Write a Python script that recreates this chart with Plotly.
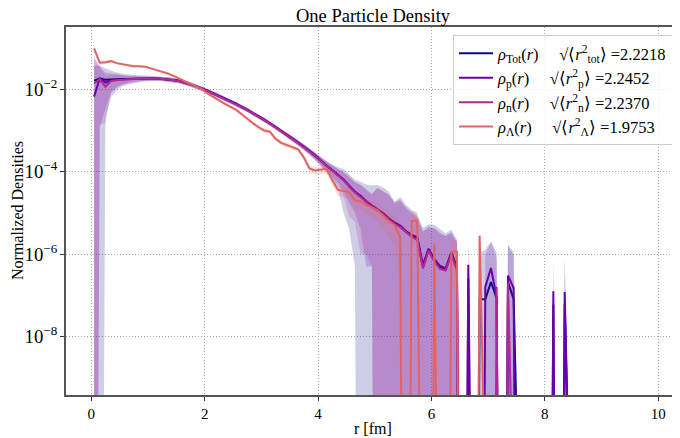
import numpy as np
import plotly.graph_objects as go

# bin centres [fm]
r_fm = np.round(np.arange(0.05, 10.0, 0.1), 2)

# densities (bins 0.05 ... 8.45 fm, zero afterwards)
rho_tot = [1.62e-2, 1.82e-2, 1.70e-2, 1.74e-2, 1.74e-2, 1.78e-2, 1.78e-2, 1.80e-2, 1.82e-2, 1.84e-2,
           1.84e-2, 1.82e-2, 1.78e-2, 1.74e-2, 1.66e-2, 1.58e-2, 1.45e-2, 1.32e-2, 1.17e-2, 1.05e-2,
           9.1e-3, 7.9e-3, 6.9e-3, 5.9e-3, 5.1e-3, 4.4e-3, 3.7e-3, 3.2e-3, 2.6e-3, 2.2e-3,
           1.8e-3, 1.48e-3, 1.20e-3, 9.8e-4, 7.9e-4, 6.3e-4, 5.0e-4, 4.0e-4, 3.1e-4, 2.4e-4,
           1.82e-4, 1.38e-4, 1.07e-4, 8.3e-5, 6.3e-5, 4.4e-5, 3.2e-5, 2.5e-5, 1.86e-5, 1.45e-5,
           1.17e-5, 9.5e-6, 7.1e-6, 5.6e-6, 4.7e-6, 3.5e-6, 2.8e-6, 2.4e-6, 5.0e-7, 1.26e-6,
           7.1e-7, 4.8e-7, 4.2e-7, 1.0e-6, 4.4e-7, 0, 2.5e-7, 0, 8e-8, 8e-8,
           2.1e-7, 8.5e-8, 0, 2.1e-7, 8e-8, 0, 0, 0, 0, 0,
           0, 6e-8, 0, 6e-8, 0]
rho_p = [6.6e-3, 1.82e-2, 1.45e-2, 1.62e-2, 1.70e-2, 1.76e-2, 1.77e-2, 1.80e-2, 1.82e-2, 1.83e-2,
         1.84e-2, 1.82e-2, 1.79e-2, 1.75e-2, 1.68e-2, 1.60e-2, 1.47e-2, 1.33e-2, 1.18e-2, 1.06e-2,
         9.3e-3, 8.0e-3, 7.0e-3, 6.0e-3, 5.2e-3, 4.5e-3, 3.8e-3, 3.2e-3, 2.7e-3, 2.2e-3,
         1.85e-3, 1.50e-3, 1.22e-3, 1.00e-3, 8.0e-4, 6.4e-4, 5.1e-4, 4.1e-4, 3.2e-4, 2.5e-4,
         1.85e-4, 1.40e-4, 1.10e-4, 8.4e-5, 6.5e-5, 4.5e-5, 3.3e-5, 2.6e-5, 1.9e-5, 1.5e-5,
         1.2e-5, 9.8e-6, 7.3e-6, 5.8e-6, 4.9e-6, 3.6e-6, 2.9e-6, 2.6e-6, 5.5e-7, 1.35e-6,
         7.6e-7, 5.2e-7, 4.5e-7, 1.1e-6, 4.8e-7, 0, 5.5e-7, 0, 0, 1.6e-7,
         4.6e-7, 9e-8, 0, 3.0e-7, 1.5e-7, 0, 0, 0, 0, 0,
         0, 1.25e-7, 0, 1.2e-7, 0]
rho_n = [1.38e-2, 1.74e-2, 1.15e-2, 1.58e-2, 1.66e-2, 1.72e-2, 1.75e-2, 1.78e-2, 1.80e-2, 1.82e-2,
         1.83e-2, 1.81e-2, 1.77e-2, 1.73e-2, 1.66e-2, 1.57e-2, 1.44e-2, 1.31e-2, 1.16e-2, 1.04e-2,
         9.0e-3, 7.8e-3, 6.8e-3, 5.9e-3, 5.0e-3, 4.3e-3, 3.7e-3, 3.1e-3, 2.6e-3, 2.2e-3,
         1.8e-3, 1.46e-3, 1.19e-3, 9.7e-4, 7.8e-4, 6.2e-4, 4.9e-4, 3.9e-4, 3.1e-4, 2.4e-4,
         1.80e-4, 1.36e-4, 1.05e-4, 8.2e-5, 6.2e-5, 4.3e-5, 3.1e-5, 2.4e-5, 1.8e-5, 1.4e-5,
         1.15e-5, 9.2e-6, 6.9e-6, 5.4e-6, 4.5e-6, 3.4e-6, 2.6e-6, 2.2e-6, 4.5e-7, 1.2e-6,
         6.6e-7, 4.4e-7, 4.0e-7, 9.5e-7, 4.2e-7, 0, 0, 0, 0, 0,
         0, 1.6e-7, 0, 2.0e-7, 0, 0, 0, 0, 0, 0,
         0, 0, 0, 0, 0]
rho_lam = [9.8e-2, 4.4e-2, 4.5e-2, 4.8e-2, 4.3e-2, 4.0e-2, 3.8e-2, 3.6e-2, 3.6e-2, 3.5e-2,
           3.2e-2, 2.95e-2, 2.7e-2, 2.4e-2, 2.1e-2, 1.82e-2, 1.58e-2, 1.38e-2, 1.20e-2, 1.0e-2,
           7.9e-3, 6.5e-3, 5.4e-3, 4.5e-3, 3.8e-3, 3.2e-3, 2.5e-3, 1.9e-3, 1.5e-3, 1.2e-3,
           1.0e-3, 9.3e-4, 6.3e-4, 5.0e-4, 4.4e-4, 4.0e-4, 3.5e-4, 2.2e-4, 1.2e-4, 1.07e-4,
           1.1e-4, 1.17e-4, 6.3e-5, 3.6e-5, 3.4e-5, 3.2e-5, 2.0e-5, 1.9e-5, 1.55e-5, 1.38e-5,
           1.17e-5, 8.7e-6, 6.3e-6, 5.0e-6, 2.6e-6, 0, 6.3e-6, 6.6e-6, 0, 0,
           1.8e-6, 0, 0, 1.15e-6, 1.15e-6, 0, 0, 0, 2.8e-6, 0,
           0, 0, 0, 0, 0, 0, 0, 0, 0, 0,
           0, 0, 0, 0, 0]

# statistical errors (half width of the shaded bands)
err_tot = [2.0e-2, 2.0e-2, 1.5e-2, 1.1e-2, 8e-3, 6e-3, 5e-3, 4e-3, 3.4e-3, 3e-3,
           2.6e-3, 2.4e-3, 2.2e-3, 2.1e-3, 2.0e-3, 1.9e-3, 1.75e-3, 1.6e-3, 1.4e-3, 1.3e-3,
           1.1e-3, 9.5e-4, 8.3e-4, 7.1e-4, 6.1e-4, 5.3e-4, 4.5e-4, 3.8e-4, 3.2e-4, 2.7e-4,
           2.2e-4, 1.8e-4, 1.5e-4, 1.3e-4, 1.1e-4, 9e-5, 7.5e-5, 6.4e-5, 5.6e-5, 4.8e-5,
           4.5e-5, 4.1e-5, 4.3e-5, 4.5e-5, 5.3e-5, 4.0e-5, 3.15e-5, 3.2e-5, 3.0e-5, 3.2e-5,
           3.6e-5, 3.2e-5, 2.6e-5, 1.3e-5, 2.0e-5, 1.2e-5, 9e-6, 7e-6, 3.8e-6, 4.0e-6,
           4.4e-6, 3.5e-6, 2.8e-6, 2.9e-6, 1.8e-6, 0, 2.0e-6, 0, 1.0e-6, 1.2e-6,
           1.8e-6, 1.0e-6, 0, 1.5e-6, 1.0e-6, 0, 0, 0, 0, 0,
           0, 7.5e-7, 0, 7.5e-7, 0]
err_p = [5.6e-2, 1.7e-2, 1.1e-2, 8e-3, 6e-3, 4.5e-3, 3.5e-3, 2.8e-3, 2.4e-3, 2.2e-3,
         2.0e-3, 1.9e-3, 1.9e-3, 1.9e-3, 1.8e-3, 1.75e-3, 1.6e-3, 1.45e-3, 1.3e-3, 1.15e-3,
         1.0e-3, 8.8e-4, 7.7e-4, 6.6e-4, 5.7e-4, 5.0e-4, 4.2e-4, 3.5e-4, 3.0e-4, 2.4e-4,
         2.0e-4, 1.7e-4, 1.4e-4, 1.2e-4, 1.0e-4, 8.5e-5, 7e-5, 6e-5, 5.2e-5, 4.5e-5,
         4.0e-5, 3.6e-5, 3.3e-5, 3.0e-5, 3.0e-5, 2.8e-5, 2.3e-5, 2.2e-5, 1.85e-5, 1.45e-5,
         2.8e-5, 2.4e-5, 2.0e-5, 1.2e-5, 1.6e-5, 1.0e-5, 7.5e-6, 5.5e-6, 3.0e-6, 3.3e-6,
         3.5e-6, 2.8e-6, 2.3e-6, 2.3e-6, 1.5e-6, 0, 1.7e-6, 0, 0, 8e-7,
         1.5e-6, 7e-7, 0, 1.3e-6, 8e-7, 0, 0, 0, 0, 0,
         0, 6.7e-7, 0, 6.7e-7, 0]
err_n = [4.0e-2, 1.6e-2, 1.0e-2, 7e-3, 5.5e-3, 4.2e-3, 3.4e-3, 2.8e-3, 2.4e-3, 2.2e-3,
         2.0e-3, 1.9e-3, 1.9e-3, 1.9e-3, 1.8e-3, 1.7e-3, 1.6e-3, 1.45e-3, 1.3e-3, 1.15e-3,
         1.0e-3, 8.6e-4, 7.5e-4, 6.5e-4, 5.5e-4, 4.8e-4, 4.1e-4, 3.4e-4, 2.9e-4, 2.4e-4,
         2.0e-4, 1.7e-4, 1.4e-4, 1.2e-4, 1.0e-4, 8.5e-5, 7.2e-5, 6.2e-5, 5.4e-5, 4.8e-5,
         4.3e-5, 3.9e-5, 3.6e-5, 3.4e-5, 3.6e-5, 3.5e-5, 2.5e-5, 2.3e-5, 1.7e-5, 1.35e-5,
         2.9e-5, 2.5e-5, 2.1e-5, 1.1e-5, 1.5e-5, 9.5e-6, 7e-6, 5e-6, 3.2e-6, 3.0e-6,
         3.6e-6, 2.6e-6, 2.4e-6, 2.2e-6, 1.4e-6, 0, 0, 0, 0, 0,
         0, 9e-7, 0, 1.2e-6, 0, 0, 0, 0, 0, 0,
         0, 0, 0, 0, 0]
err_lam = [1.9e-2, 6e-3, 4e-3, 3.5e-3, 3e-3, 2.6e-3, 2.4e-3, 2.2e-3, 2.1e-3, 2.0e-3,
           1.9e-3, 1.7e-3, 1.6e-3, 1.5e-3, 1.3e-3, 1.1e-3, 1.0e-3, 9e-4, 8e-4, 7e-4,
           5.5e-4, 4.6e-4, 4.0e-4, 3.4e-4, 3.0e-4, 2.6e-4, 2.1e-4, 1.7e-4, 1.4e-4, 1.2e-4,
           1.0e-4, 1.0e-4, 7.5e-5, 6.5e-5, 6e-5, 5.6e-5, 5.3e-5, 3.7e-5, 2.3e-5, 2.1e-5,
           2.3e-5, 2.6e-5, 1.6e-5, 1e-5, 1e-5, 1e-5, 7e-6, 7e-6, 6.5e-6, 6e-6,
           5.5e-6, 4.5e-6, 3.8e-6, 3.2e-6, 2.4e-6, 0, 4.5e-6, 4.5e-6, 0, 0,
           1.5e-6, 0, 0, 1.0e-6, 1.0e-6, 0, 0, 0, 6e-7, 0,
           0, 0, 0, 0, 0, 0, 0, 0, 0, 0,
           0, 0, 0, 0, 0]

rms_tot, rms_p, rms_n, rms_lam = 2.2218, 2.2452, 2.2370, 1.9753

FLOOR = 1e-30  # zero bins: drop lines to the bottom like matplotlib does on a log axis


def full(a):
    return np.array(list(a) + [0.0] * (len(r_fm) - len(a)))


def pos(a):
    return np.where(a > 0, a, FLOOR)


sp = "\u00a0"
series = [
    ("tot", rho_tot, err_tot, (13, 8, 135),
     f"<i>ρ</i><sub>Tot</sub>(<i>r</i>){sp*5}√⟨<i>r</i><sup>2</sup><sub>tot</sub>⟩ ={rms_tot:.4f}"),
    ("p", rho_p, err_p, (106, 0, 168),
     f"<i>ρ</i><sub>p</sub>(<i>r</i>){sp*5}√⟨<i>r</i><sup>2</sup><sub>p</sub>⟩ ={rms_p:.4f}"),
    ("n", rho_n, err_n, (177, 42, 144),
     f"<i>ρ</i><sub>n</sub>(<i>r</i>){sp*5}√⟨<i>r</i><sup>2</sup><sub>n</sub>⟩ ={rms_n:.4f}"),
    ("lam", rho_lam, err_lam, (225, 100, 98),
     f"<i>ρ</i><sub>Λ</sub>(<i>r</i>){sp*5}√⟨<i>r</i><sup>2</sup><sub>Λ</sub>⟩ ={rms_lam:.4f}"),
]

fig = go.Figure()

# shaded bands first
for key, rho, err, c, label in series:
    v, e = full(rho), full(err)
    hi = pos(v + e)
    lo = pos(v - e)
    fig.add_trace(go.Scatter(
        x=np.concatenate([r_fm, r_fm[::-1]]),
        y=np.concatenate([hi, lo[::-1]]),
        fill="toself", fillcolor=f"rgba({c[0]},{c[1]},{c[2]},0.2)",
        line=dict(width=0), mode="lines", showlegend=False, hoverinfo="skip",
    ))

# lines
for key, rho, err, c, label in series:
    fig.add_trace(go.Scatter(
        x=r_fm, y=pos(full(rho)), mode="lines", name=label,
        line=dict(color=f"rgb({c[0]},{c[1]},{c[2]})", width=2),
    ))

# the page puts the figure 8 px in from the window corner; the axes box is
# placed so that it lands where the reference has it (right spine off-screen)
L, T, W, H = 58, 19, 622, 368
fig.update_layout(
    width=680, height=438,
    margin=dict(l=L, r=680 - L - W, t=T, b=438 - T - H),
    paper_bgcolor="white", plot_bgcolor="white",
    font=dict(family="Liberation Serif", size=15, color="black"),
    title=dict(text="One Particle Density", x=365 / 680, xanchor="center",
               y=1, yanchor="top", pad=dict(t=1), font=dict(size=18.5)),
    legend=dict(x=(665 - L) / W, xanchor="right", y=1 - 8 / H, yanchor="top",
                bgcolor="rgba(255,255,255,0.8)", bordercolor="#cccccc", borderwidth=1,
                font=dict(size=16.5), itemwidth=34),
    showlegend=True,
    annotations=[
        dict(text="r [fm]", xref="paper", yref="paper", x=(365 - L) / W, y=-33 / H,
             xanchor="center", yanchor="middle", showarrow=False, font=dict(size=16)),
        dict(text="Normalized Densities", xref="paper", yref="paper", x=-(L - 9) / W,
             y=0.5, textangle=-90, xanchor="center", yanchor="middle",
             showarrow=False, font=dict(size=16)),
    ],
)
fig.update_xaxes(
    range=[-0.445, -0.445 + W / 56.7], tickvals=[0, 2, 4, 6, 8, 10], automargin=False,
    showgrid=True, gridcolor="#a8a8a8", griddash="1px,2px", gridwidth=1,
    zeroline=False, showline=True, linecolor="#555555", linewidth=1.5, mirror=True,
    ticks="outside", ticklen=4, tickcolor="#333333",
)
fig.update_yaxes(
    type="log", range=[-9.42, -0.49], dtick=2, exponentformat="power", automargin=False,
    showgrid=True, gridcolor="#a8a8a8", griddash="1px,2px", gridwidth=1,
    zeroline=False, showline=True, linecolor="#555555", linewidth=1.5,
    ticks="outside", ticklen=4, tickcolor="#333333",
)

fig.write_html("out.html")
